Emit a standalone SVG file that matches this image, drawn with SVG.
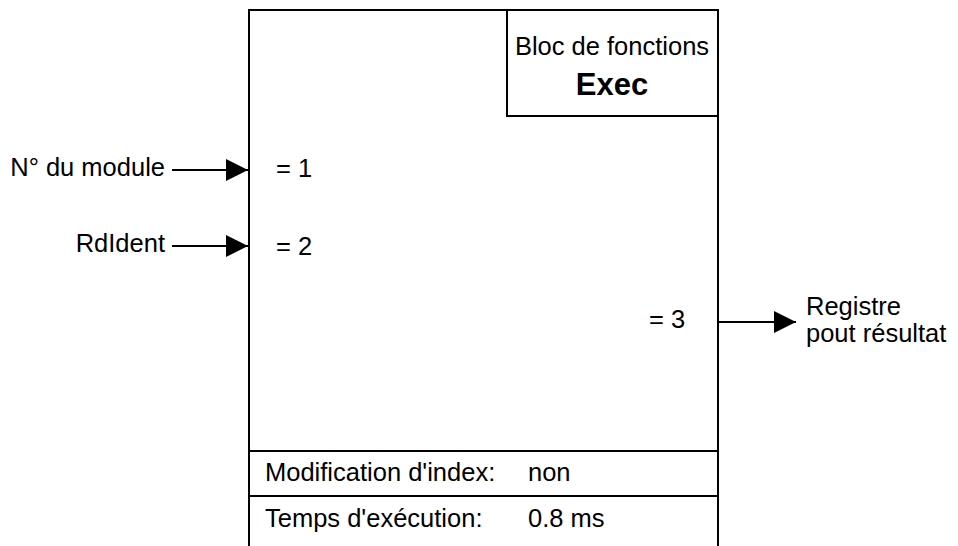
<svg xmlns="http://www.w3.org/2000/svg" width="958" height="546" viewBox="0 0 958 546">
  <style>
    .ln { stroke: #000; stroke-width: 2; fill: none; }
    .t { font-family: "Liberation Sans", Arial, sans-serif; font-size: 25.5px; fill: #000; }
    .b { font-weight: bold; font-size: 31px; }
  </style>
  <defs>
    <marker id="arr" viewBox="0 0 22 22" refX="22" refY="11" markerWidth="22" markerHeight="22" markerUnits="userSpaceOnUse" orient="auto">
      <path d="M0,0 L22,11 L0,22 Z" fill="#000"/>
    </marker>
  </defs>
  <rect width="958" height="546" fill="#fff"/>

  <!-- Function block body (open at the bottom) -->
  <g id="block">
    <path class="ln" d="M249,546 V10 H718 V546"/>
    <line class="ln" x1="249" y1="451" x2="718" y2="451"/>
    <line class="ln" x1="249" y1="496" x2="718" y2="496"/>
    <text class="t" x="276" y="177">= 1</text>
    <text class="t" x="276" y="255">= 2</text>
    <text class="t" x="649" y="328">= 3</text>
    <text class="t" x="265" y="481" font-size="26">Modification d'index:<tspan x="528">non</tspan></text>
    <text class="t" x="265" y="527" font-size="26">Temps d'exécution:<tspan x="528">0.8 ms</tspan></text>
  </g>

  <!-- Title box -->
  <g id="title">
    <path class="ln" d="M507,10 V116 H718"/>
    <text class="t" x="612" y="55" text-anchor="middle" font-size="26">Bloc de fonctions</text>
    <text class="t b" x="612" y="95" text-anchor="middle">Exec</text>
  </g>

  <g id="in-module">
    <text class="t" x="165" y="176" text-anchor="end">N° du module</text>
  </g>
  <g id="in-rdident">
    <text class="t" x="165" y="252" text-anchor="end">RdIdent</text>
  </g>
  <g id="out-result">
    <text class="t" x="806" y="315">Registre</text>
    <text class="t" x="806" y="342">pout résultat</text>
  </g>

  <g id="connectors">
    <line class="ln" x1="172" y1="170" x2="248" y2="170" marker-end="url(#arr)"/>
    <line class="ln" x1="172" y1="246" x2="248" y2="246" marker-end="url(#arr)"/>
    <line class="ln" x1="719" y1="322" x2="796" y2="322" marker-end="url(#arr)"/>
  </g>
</svg>
